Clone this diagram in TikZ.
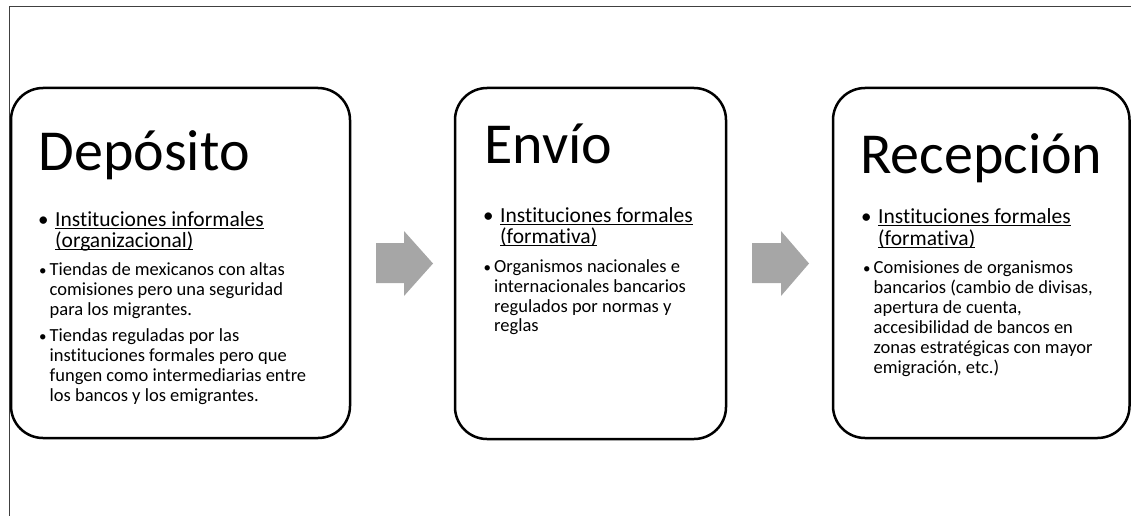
\documentclass[tikz,border=0pt]{standalone}
\usepackage{fontspec}
\setmainfont{Carlito}[Ligatures=NoCommon]
\newcommand\myul[1]{\setbox0\hbox{#1}\rlap{\rule[-3pt]{\wd0}{1.1pt}}\box0}
\definecolor{arrowgray}{RGB}{166,166,166}
\definecolor{framegray}{RGB}{64,64,64}
\tikzset{
  box/.style={draw=black, line width=2.5pt, rounded corners=32pt, fill=white, inner sep=0pt},
  ttl/.style={anchor=base west, inner sep=0pt, font=\fontsize{58}{60}\selectfont},
  head/.style={anchor=base west, inner sep=0pt, font=\fontsize{21.5}{23}\selectfont},
  body/.style={anchor=base west, inner sep=0pt, font=\fontsize{18.5}{20}\selectfont},
  hbul/.style={anchor=base west, inner sep=0pt, font=\fontsize{21}{23}\selectfont},
  bbul/.style={anchor=base west, inner sep=0pt, font=\fontsize{15}{20}\selectfont},
  blockarrow/.style={fill=arrowgray, draw=none}
}
\begin{document}
\begin{tikzpicture}[x=1pt,y=-1pt]
\useasboundingbox (0,0) rectangle (1131,516);
% frame
\draw[framegray, line width=1pt] (9.5,516) -- (9.5,6.5) -- (1131,6.5);
% boxes
\node[box, minimum width=339pt, minimum height=350pt] (b1) at (180.5,263) {};
\node[box, minimum width=271pt, minimum height=351pt] (b2) at (590.5,263.5) {};
\node[box, minimum width=296.5pt, minimum height=350pt] (b3) at (981.25,263) {};
% arrows
\fill[blockarrow] (376,243) -- (404,243) -- (404,231) -- (433,263.5) -- (404,296) -- (404,283) -- (376,283) -- cycle;
\fill[blockarrow] (752,243) -- (781,243) -- (781,231) -- (809,263.5) -- (781,296) -- (781,283) -- (752,283) -- cycle;
% box 1
\node[ttl] (t1) at (38.5,170) {Depósito};
\node[hbul] (h1b) at (38,226) {•};
\node[head] (h1a) at (55,226) {\myul{Instituciones informales}};
\node[head] (h1c) at (55,247) {\myul{(organizacional)}};
\node[bbul] (p1b) at (38.8,275) {•};
\node[body] (p1a) at (49.5,275) {Tiendas de mexicanos con altas};
\node[body] (p1c) at (49.5,295) {comisiones pero una seguridad};
\node[body] (p1d) at (49.5,315) {para los migrantes.};
\node[bbul] (q1b) at (38.8,341) {•};
\node[body] (q1a) at (49.5,341) {Tiendas reguladas por las};
\node[body] (q1c) at (49.5,361) {instituciones formales pero que};
\node[body] (q1d) at (49.5,381) {fungen como intermediarias entre};
\node[body] (q1e) at (49.5,401) {los bancos y los emigrantes.};
% box 2
\node[ttl] (t2) at (484,163) {Envío};
\node[hbul] (h2b) at (483,222) {•};
\node[head] (h2a) at (500,222) {\myul{Instituciones formales}};
\node[head] (h2c) at (500,243) {\myul{(formativa)}};
\node[bbul] (p2b) at (483.5,272) {•};
\node[body] (p2a) at (494,272) {Organismos nacionales e};
\node[body] (p2c) at (494,292) {internacionales bancarios};
\node[body] (p2d) at (494,312) {regulados por normas y};
\node[body] (p2e) at (494,331) {reglas};
% box 3
\node[ttl] (t3) at (860,173) {Recepción};
\node[hbul] (h3b) at (861,223) {•};
\node[head] (h3a) at (878,223) {\myul{Instituciones formales}};
\node[head] (h3c) at (878,245) {\myul{(formativa)}};
\node[bbul] (p3b) at (863,273) {•};
\node[body] (p3a) at (873.5,273) {Comisiones de organismos};
\node[body] (p3c) at (873.5,293) {bancarios (cambio de divisas,};
\node[body] (p3d) at (873.5,313) {apertura de cuenta,};
\node[body] (p3e) at (873.5,333) {accesibilidad de bancos en};
\node[body] (p3f) at (873.5,353) {zonas estratégicas con mayor};
\node[body] (p3g) at (873.5,373) {emigración, etc.)};
\end{tikzpicture}
\end{document}
